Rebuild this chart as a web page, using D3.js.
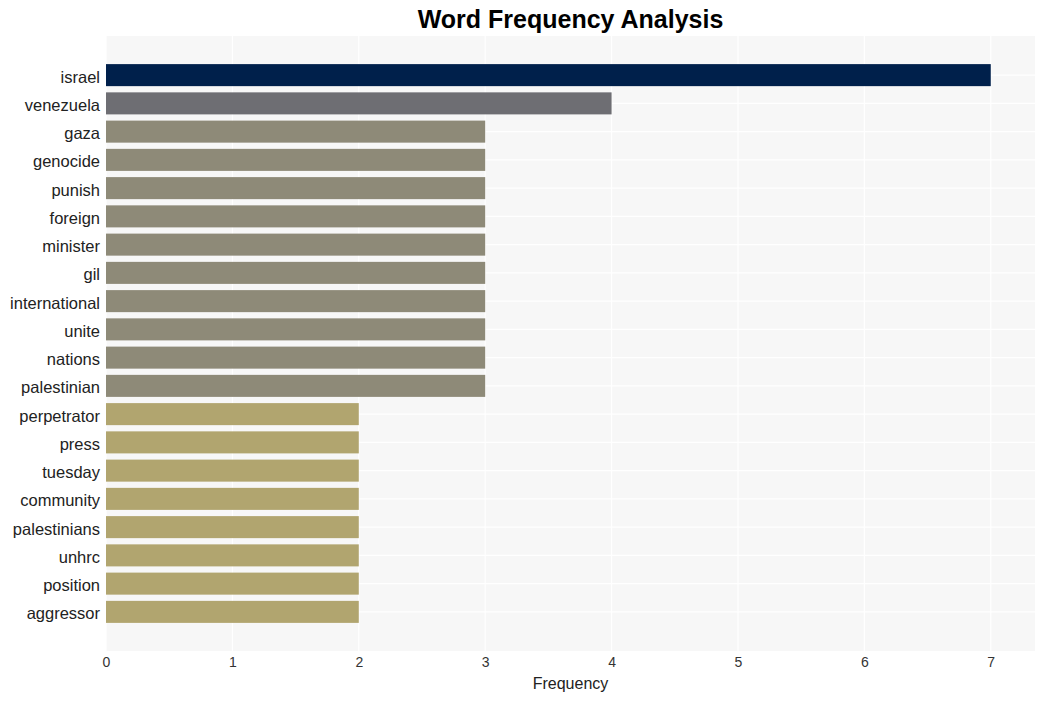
<!DOCTYPE html>
<html>
<head>
<meta charset="utf-8">
<script src="https://cdn.jsdelivr.net/npm/d3@7"></script>
<style>
  body { margin: 0; background: #fff; }
  text { font-family: "Liberation Sans", Arial, sans-serif; }
</style>
</head>
<body>
<div id="chart"></div>
<script>
// word counts, top to bottom
var words = ["israel", "venezuela", "gaza", "genocide", "punish", "foreign", "minister", "gil",
    "international", "unite", "nations", "palestinian", "perpetrator", "press", "tuesday",
    "community", "palestinians", "unhrc", "position", "aggressor"];
var counts = [7, 4, 3, 3, 3, 3, 3, 3, 3, 3, 3, 3, 2, 2, 2, 2, 2, 2, 2, 2];
var xTicks = [0, 1, 2, 3, 4, 5, 6, 7];

var colorByCount = {7: "#00204b", 4: "#6e6e73", 3: "#8e8a78", 2: "#b1a56f"};

var width = 1045, height = 701;
var plot = {left: 106, right: 1035, top: 36, bottom: 651};

var svg = d3.select("#chart").append("svg")
    .attr("width", width)
    .attr("height", height);

var x = d3.scaleLinear()
    .domain([0, 7.35])
    .range([plot.left, plot.right]);

var y = d3.scaleBand()
    .domain(words)
    .range([61, 626])
    .paddingInner(0.22)
    .paddingOuter(0.11);

// panel background
svg.append("rect")
    .attr("x", plot.left)
    .attr("y", plot.top)
    .attr("width", plot.right - plot.left)
    .attr("height", plot.bottom - plot.top)
    .style("fill", "#f7f7f7");

// grid
svg.append("g").selectAll("line").data(xTicks).enter()
    .append("line")
    .attr("x1", function(d) { return x(d); })
    .attr("x2", function(d) { return x(d); })
    .attr("y1", plot.top)
    .attr("y2", plot.bottom)
    .style("stroke", "#ffffff")
    .style("stroke-width", 1.2);

svg.append("g").selectAll("line").data(words).enter()
    .append("line")
    .attr("x1", plot.left)
    .attr("x2", plot.right)
    .attr("y1", function(d) { return y(d) + y.bandwidth() / 2; })
    .attr("y2", function(d) { return y(d) + y.bandwidth() / 2; })
    .style("stroke", "#ffffff")
    .style("stroke-width", 1.2);

// bars
svg.append("g").selectAll("rect").data(words).enter()
    .append("rect")
    .attr("x", x(0))
    .attr("y", function(d) { return y(d); })
    .attr("width", function(d, i) { return x(counts[i]) - x(0); })
    .attr("height", y.bandwidth())
    .style("fill", function(d, i) { return colorByCount[counts[i]]; });

// axes
var yAxis = svg.append("g")
    .attr("transform", "translate(" + plot.left + ",0)")
    .call(d3.axisLeft(y).tickSize(0).tickPadding(6));
yAxis.select(".domain").remove();
yAxis.selectAll("text")
    .attr("dy", "0.45em")
    .style("font-size", "16.5px")
    .style("fill", "#222");

var xAxis = svg.append("g")
    .attr("transform", "translate(0," + plot.bottom + ")")
    .call(d3.axisBottom(x).tickValues(xTicks).tickFormat(d3.format("d")).tickSize(0).tickPadding(6));
xAxis.select(".domain").remove();
xAxis.selectAll("text")
    .style("font-size", "14px")
    .style("fill", "#333");

svg.append("text")
    .attr("x", (plot.left + plot.right) / 2)
    .attr("y", 689)
    .attr("text-anchor", "middle")
    .style("font-size", "16px")
    .style("fill", "#222")
    .text("Frequency");

svg.append("text")
    .attr("x", (plot.left + plot.right) / 2)
    .attr("y", 28)
    .attr("text-anchor", "middle")
    .style("font-size", "25px")
    .style("font-weight", "bold")
    .style("fill", "#000")
    .text("Word Frequency Analysis");
</script>
</body>
</html>
